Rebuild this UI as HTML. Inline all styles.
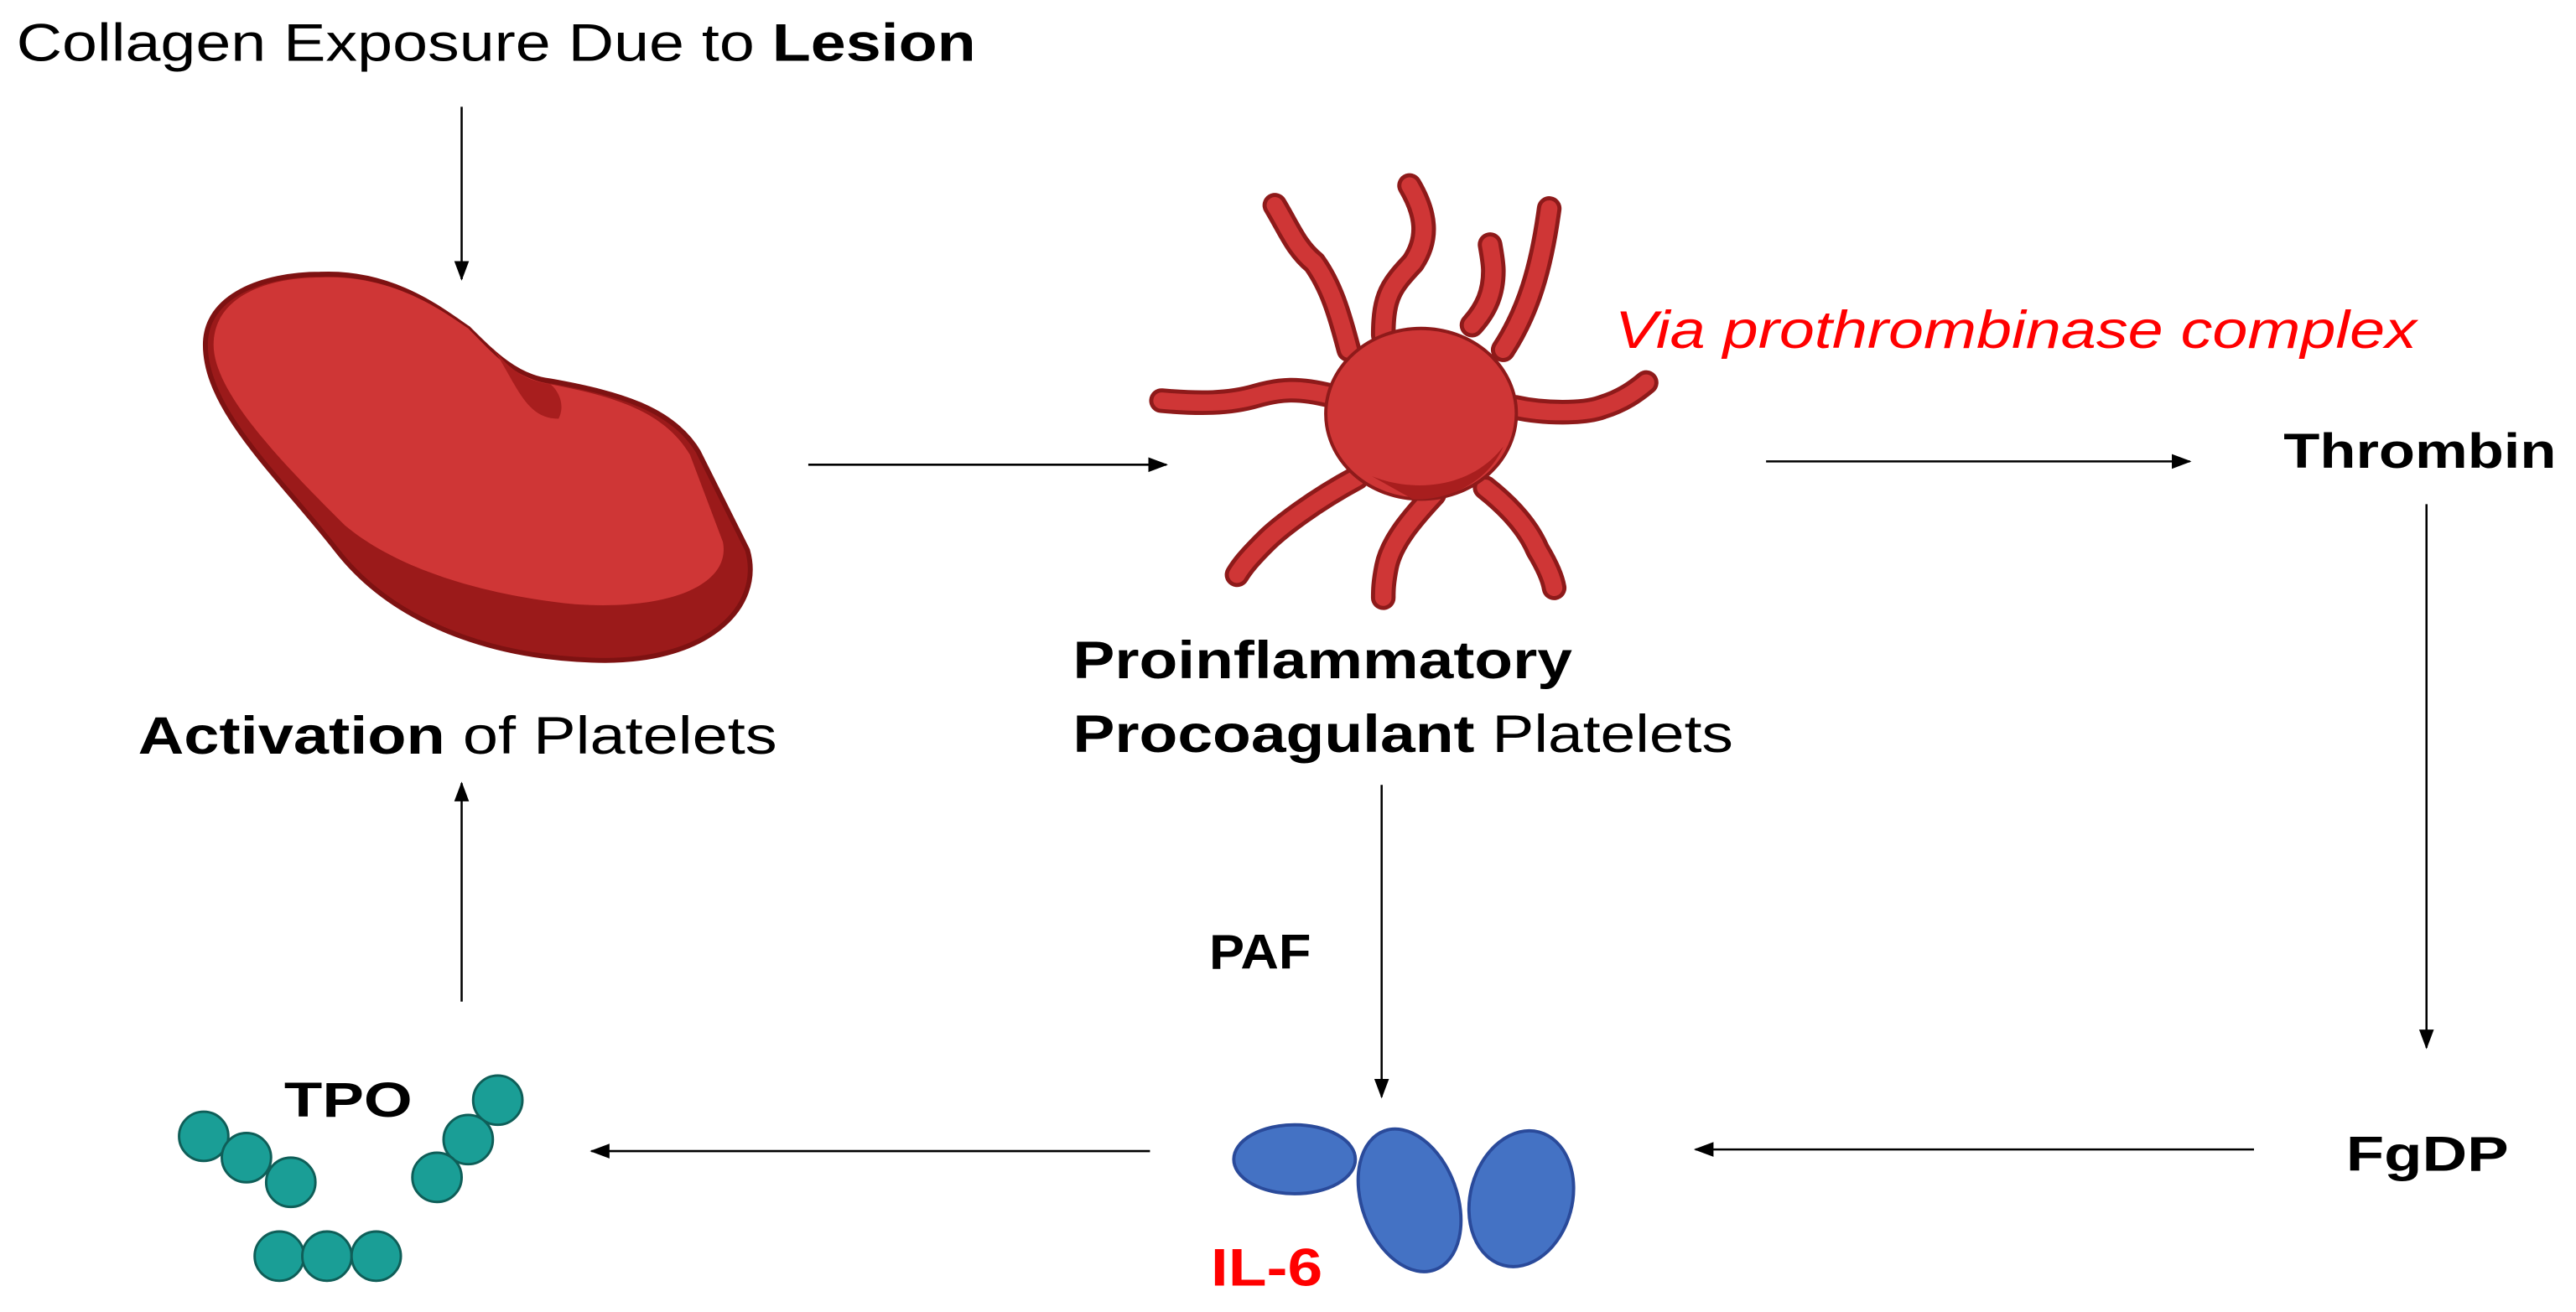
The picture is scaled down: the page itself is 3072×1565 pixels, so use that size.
<!DOCTYPE html>
<html><head><meta charset="utf-8"><style>html,body{margin:0;padding:0;background:#fff}svg{display:block}</style></head>
<body>
<svg width="3072" height="1565" viewBox="0 0 1568 799" preserveAspectRatio="none" xmlns="http://www.w3.org/2000/svg">
<defs>
<marker id="ah" markerWidth="12" markerHeight="12" refX="11" refY="6" orient="auto" markerUnits="userSpaceOnUse">
<path d="M0,1.5 L12,6 L0,10.5 Z" fill="#000"/>
</marker>
</defs>
<rect width="1568" height="799" fill="#fff"/>
<g font-family="Liberation Sans, sans-serif">
<text x="10" y="37" font-size="32" textLength="584" lengthAdjust="spacingAndGlyphs">Collagen Exposure Due to <tspan font-weight="bold">Lesion</tspan></text>
<text x="84" y="459" font-size="32" textLength="389" lengthAdjust="spacingAndGlyphs"><tspan font-weight="bold">Activation</tspan> of Platelets</text>
<text x="653" y="413" font-size="32" font-weight="bold" textLength="304" lengthAdjust="spacingAndGlyphs">Proinflammatory</text>
<text x="653" y="458" font-size="32" textLength="402" lengthAdjust="spacingAndGlyphs"><tspan font-weight="bold">Procoagulant</tspan> Platelets</text>
<text x="983" y="212" font-size="32" font-style="italic" fill="#ff0000" textLength="488" lengthAdjust="spacingAndGlyphs">Via prothrombinase complex</text>
<text x="1390" y="285" font-size="30" font-weight="bold" textLength="166" lengthAdjust="spacingAndGlyphs">Thrombin</text>
<text x="1428" y="713" font-size="30" font-weight="bold" textLength="99" lengthAdjust="spacingAndGlyphs">FgDP</text>
<text x="736" y="590" font-size="30" font-weight="bold" textLength="62" lengthAdjust="spacingAndGlyphs">PAF</text>
<text x="737" y="783" font-size="32" font-weight="bold" fill="#ff0000" textLength="68" lengthAdjust="spacingAndGlyphs">IL-6</text>
<text x="173" y="680" font-size="30" font-weight="bold" textLength="78" lengthAdjust="spacingAndGlyphs">TPO</text>
</g>
<g stroke="#000" stroke-width="1.3" fill="none" marker-end="url(#ah)">
<line x1="281" y1="65" x2="281" y2="170"/>
<line x1="492" y1="283" x2="710" y2="283"/>
<line x1="1075" y1="281" x2="1333" y2="281"/>
<line x1="1477" y1="307" x2="1477" y2="638"/>
<line x1="1372" y1="700" x2="1032" y2="700"/>
<line x1="841" y1="478" x2="841" y2="668"/>
<line x1="700" y1="701" x2="360" y2="701"/>
<line x1="281" y1="610" x2="281" y2="477"/>
</g>
<!-- platelet blob -->
<path d="M195,167 C240,165 270,190 285,200 C300,215 315,230 335,232 C380,240 410,250 425,275 L455,335 C465,370 430,405 360,402 C300,400 240,380 205,335 C170,290 125,250 125,210 C125,180 160,167 195,167 Z" fill="#9b1a1a" stroke="#7e1212" stroke-width="3"/>
<path d="M195,169 C240,167 270,190 285,200 C300,215 312,230 335,234 C378,242 405,252 420,277 L440,330 C445,355 410,372 350,368 C290,362 240,345 210,320 C175,285 130,240 130,210 C130,182 160,169 195,169 Z" fill="#cf3636"/>
<path d="M300,212 C315,235 320,255 340,255 C345,245 338,236 335,234 C320,232 310,225 300,212 Z" fill="#a81e1e"/>
<!-- star platelet -->
<g fill="none" stroke-linecap="round" stroke-linejoin="round">
<g stroke="#8e1a1a" stroke-width="15">
<path d="M821,213 C815,190 810,174 800,160 C789,151 785,140 776,125"/>
<path d="M842,204 C842,180 847,174 860,160 C870,145 868,130 858,113"/>
<path d="M896,198 C905,188 909,178 909,165 C909,160 908,155 907,149"/>
<path d="M915,213 C930,190 938,164 943,127"/>
<path d="M810,241 C790,236 779,237 765,241 C748,246 730,246 707,244"/>
<path d="M922,248 C940,252 964,252 975,248 C988,244 996,238 1002,233"/>
<path d="M826,291 C800,305 779,321 770,330 C760,340 756,345 753,350"/>
<path d="M873,301 C860,315 847,330 844,345 C842,355 842,360 842,364"/>
<path d="M904,297 C918,308 930,321 936,335 C942,345 945,352 946,358"/>
</g>
<g stroke="#cf3636" stroke-width="10">
<path d="M821,213 C815,190 810,174 800,160 C789,151 785,140 776,125"/>
<path d="M842,204 C842,180 847,174 860,160 C870,145 868,130 858,113"/>
<path d="M896,198 C905,188 909,178 909,165 C909,160 908,155 907,149"/>
<path d="M915,213 C930,190 938,164 943,127"/>
<path d="M810,241 C790,236 779,237 765,241 C748,246 730,246 707,244"/>
<path d="M922,248 C940,252 964,252 975,248 C988,244 996,238 1002,233"/>
<path d="M826,291 C800,305 779,321 770,330 C760,340 756,345 753,350"/>
<path d="M873,301 C860,315 847,330 844,345 C842,355 842,360 842,364"/>
<path d="M904,297 C918,308 930,321 936,335 C942,345 945,352 946,358"/>
</g>
</g>
<ellipse cx="865" cy="252" rx="58" ry="52" fill="#cf3636" stroke="#8e1a1a" stroke-width="2"/>
<path d="M835,290 C860,300 895,298 915,272 C905,295 880,305 860,304 Z" fill="#a81e1e"/>
<!-- IL-6 -->
<g fill="#4472c4" stroke="#2a4a9a" stroke-width="2">
<ellipse cx="788" cy="706" rx="37" ry="21"/>
<ellipse cx="926" cy="730" rx="31" ry="42" transform="rotate(15 926 730)"/>
<ellipse cx="858" cy="731" rx="29" ry="45" transform="rotate(-20 858 731)"/>
</g>
<!-- TPO -->
<g fill="#1a9e96" stroke="#0f5e58" stroke-width="1.5">
<circle cx="124" cy="692" r="15"/><circle cx="150" cy="705" r="15"/><circle cx="177" cy="720" r="15"/>
<circle cx="303" cy="670" r="15"/><circle cx="285" cy="694" r="15"/><circle cx="266" cy="717" r="15"/>
<circle cx="170" cy="765" r="15"/><circle cx="199" cy="765" r="15"/><circle cx="229" cy="765" r="15"/>
</g>
</svg>
</body></html>
